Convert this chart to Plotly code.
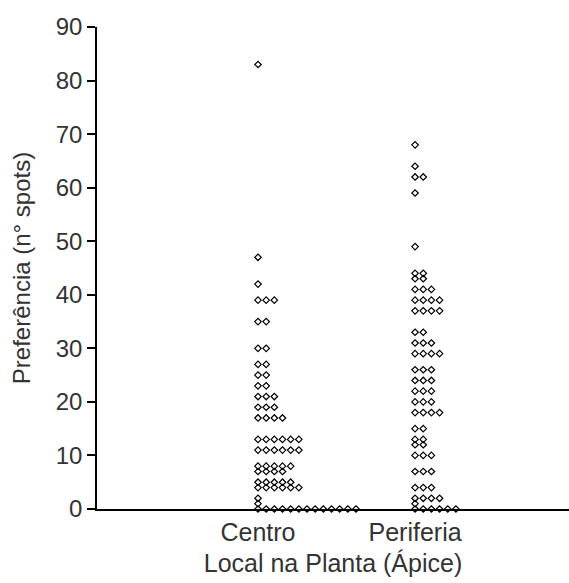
import plotly.graph_objects as go
from collections import Counter

# ---- data (individual observations, n° spots) ----
categories = ["Centro", "Periferia"]

centro = [83, 47, 42, 39, 39, 39, 35, 35, 30, 30, 27, 27, 25, 25, 23, 23,
          21, 21, 21, 19, 19, 19, 17, 17, 17, 17,
          13, 13, 13, 13, 13, 13, 11, 11, 11, 11, 11, 11,
          8, 8, 8, 8, 8, 7, 7, 7, 7, 5, 5, 5, 5, 5, 4, 4, 4, 4, 4, 4,
          2, 1] + [0] * 13

periferia = [68, 64, 62, 62, 59, 49, 44, 44, 43, 43, 41, 41, 41,
             39, 39, 39, 39, 37, 37, 37, 37, 33, 33, 31, 31, 31,
             29, 29, 29, 29, 26, 26, 26, 24, 24, 24, 22, 22, 22, 20, 20, 20,
             18, 18, 18, 18, 15, 15, 13, 13, 12, 12, 10, 10, 10,
             7, 7, 7, 4, 4, 4, 2, 2, 2, 2, 1] + [0] * 6

y_ticks = [0, 10, 20, 30, 40, 50, 60, 70, 80, 90]

groups = [centro, periferia]
step = 0.052  # horizontal spacing of tied points (x-axis units)

fig = go.Figure()
for ci, obs in enumerate(groups):
    xs, ys = [], []
    seen = Counter()
    for v in obs:
        xs.append(ci + seen[v] * step)
        ys.append(v)
        seen[v] += 1
    fig.add_trace(go.Scatter(
        x=xs, y=ys, mode="markers", cliponaxis=False, showlegend=False,
        marker=dict(symbol="diamond-open", size=5, color="black",
                    line=dict(width=1.2, color="black")),
    ))

font_fam = "Liberation Sans, Arial, sans-serif"
fig.update_layout(
    width=569, height=583,
    margin=dict(l=97, r=0, t=27, b=74),
    paper_bgcolor="white", plot_bgcolor="white",
    font=dict(family=font_fam, color="#333333"),
    xaxis=dict(
        range=[-1.025, 1.98], showgrid=False, zeroline=False,
        showline=True, linecolor="black", linewidth=1.5,
        tickmode="array", tickvals=[0, 1], ticktext=categories,
        ticks="", tickfont=dict(size=25, family=font_fam, color="#333333"),
        title=dict(text="Local na Planta (Ápice)",
                   font=dict(size=25, family=font_fam, color="#333333"),
                   standoff=10),
    ),
    yaxis=dict(
        range=[0, 90], showgrid=False, zeroline=False,
        showline=True, linecolor="black", linewidth=1.5,
        tickmode="array", tickvals=y_ticks,
        ticks="outside", ticklen=8, tickwidth=1.5, tickcolor="black",
        tickfont=dict(size=24, family=font_fam, color="#333333"),
        title=dict(text="Preferência (n° spots)",
                   font=dict(size=24, family=font_fam, color="#333333"),
                   standoff=18),
    ),
)

fig.write_html("out.html")
